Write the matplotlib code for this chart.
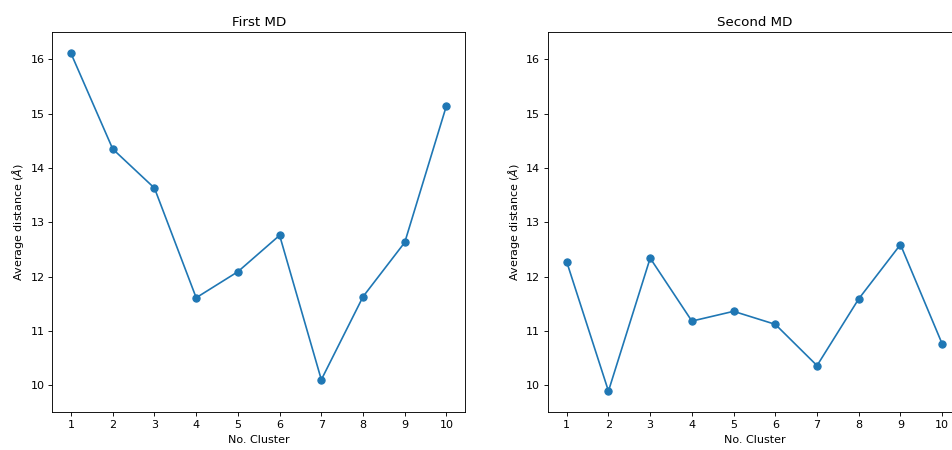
import matplotlib.pyplot as plt

# Average distance per cluster for the two MD runs
clusters = [1, 2, 3, 4, 5, 6, 7, 8, 9, 10]
first_md = [16.11, 14.35, 13.63, 11.61, 12.09, 12.76, 10.10, 11.63, 12.63, 15.15]
second_md = [12.27, 9.89, 12.34, 11.18, 11.36, 11.12, 10.36, 11.59, 12.59, 10.76]

# 952x450 pixels at 80 dpi
fig = plt.figure(figsize=(11.9, 5.625), dpi=80)
ax1 = fig.add_axes([0.0549, 0.0838, 0.4338, 0.8444])
ax2 = fig.add_axes([0.5756, 0.0838, 0.4338, 0.8444])

for ax, values, title in [(ax1, first_md, 'First MD'), (ax2, second_md, 'Second MD')]:
    ax.plot(clusters, values, 'o-', ms=6.5)
    ax.set_title(title)
    ax.set_xlabel('No. Cluster')
    ax.set_ylabel(r'Average distance ($\AA$)')
    ax.set_xticks(clusters)
    ax.set_xlim(0.55, 10.45)
    ax.set_ylim(9.5, 16.5)

fig.savefig('out.png', dpi=80)
